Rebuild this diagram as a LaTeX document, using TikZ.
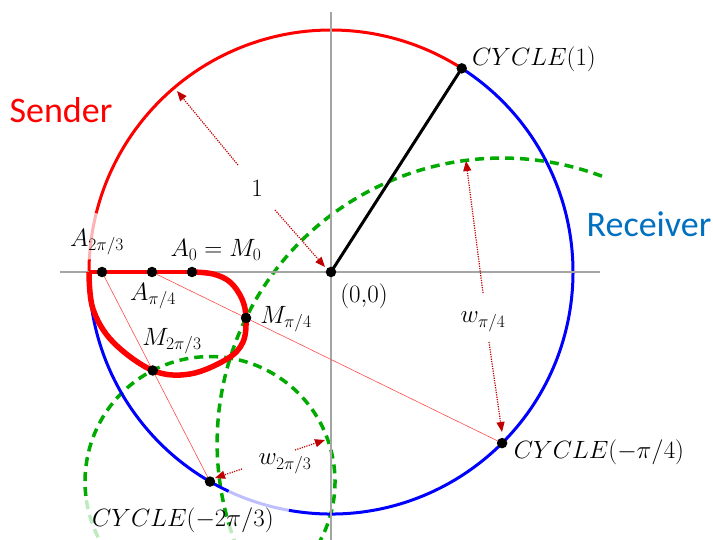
\RequirePackage{fix-cm}
\documentclass[tikz,border=0pt]{standalone}
\usepackage[no-math]{fontspec}
\newfontfamily\calib{Carlito}
\usetikzlibrary{arrows.meta,calc}
\definecolor{sred}{RGB}{255,0,0}
\definecolor{rblue}{RGB}{0,0,255}
\definecolor{recv}{RGB}{0,112,192}
\definecolor{gdash}{RGB}{0,170,0}
\definecolor{darr}{RGB}{192,0,0}
\definecolor{axisgray}{RGB}{165,165,165}
\tikzset{
 axisline/.style={axisgray, line width=1.5pt},
 circarc/.style={line width=3pt},
 gcircle/.style={gdash, line width=3.5pt, dash pattern=on 9pt off 6pt},
 thinred/.style={sred!70, line width=0.6pt},
 dotarrow/.style={darr, line width=1.2pt, dash pattern=on 1.2pt off 1.2pt, -{Triangle[length=10pt,width=8pt]}},
 dotpt/.style={circle, fill=black, inner sep=0pt, minimum size=10.5pt},
 mlabel/.style={font=\fontsize{25}{29}\selectfont, inner sep=0pt},
 biglabel/.style={font=\calib\fontsize{36}{40}\selectfont, inner sep=0pt},
}
\begin{document}
\begin{tikzpicture}[x=1pt,y=1pt]
\clip (-331,-268) rectangle (382,272);
\coordinate (O) at (0,0);
\coordinate (C1) at (57.2958:242);
\coordinate (Cq) at (-45:242);
\coordinate (Ct) at (-120:242);
\coordinate (A0) at (-139,0);
\coordinate (Aq) at (-179,0);
\coordinate (At) at (-229,0);
\coordinate (Mq) at ($(Aq)!0.2686!(Cq)$);
\coordinate (Mt) at ($(At)!0.47!(Ct)$);
\coordinate (L) at (180:242);
\coordinate (xl) at (-271,0);
\coordinate (xr) at (269,0);
\coordinate (yt) at (0,260);
\coordinate (yb) at (0,-268);

% green dashed circles
\draw[gcircle] (Cq) ++(69.5:285) arc[start angle=69.5, end angle=196.6, radius=285];
\draw[gcircle, gdash!25] (Cq) ++(196.6:285) arc[start angle=196.6, end angle=210, radius=285];
\draw[gcircle] (Ct) ++(240:125) arc[start angle=240, end angle=548.6, radius=125];
\draw[gcircle, gdash!25] (Ct) ++(188.6:125) arc[start angle=188.6, end angle=240, radius=125];

% unit circle
\draw[circarc, sred] (O) ++(57.2958:242) arc[start angle=57.2958, end angle=166, radius=242];
\draw[circarc, sred!30] (O) ++(166:242) arc[start angle=166, end angle=177, radius=242];
\draw[circarc, sred] (O) ++(177:242) arc[start angle=177, end angle=180, radius=242];
\draw[circarc, rblue] (O) ++(180:242) arc[start angle=180, end angle=245, radius=242];
\draw[circarc, rblue!25] (O) ++(245:242) arc[start angle=245, end angle=260, radius=242];
\draw[circarc, rblue] (O) ++(260:242) arc[start angle=260, end angle=417.2958, radius=242];

% axes
\draw[axisline] (xl) -- (xr);
\draw[axisline] (yt) -- (yb);

% red locus
\draw[sred, line width=3.5pt] (L) -- (A0);
\draw[sred, line width=5.5pt, line join=round] plot[smooth, tension=0.6] coordinates
 {(-139,0) (-118,-2) (-101,-10) (-89,-27) (-85,-46) (-88,-70) (-104,-87) (-141,-102) (-178.2,-98.5) (-218,-70) (-238,-37) (-242,0)};

% thin construction lines
\draw[thinred] (Aq) -- (Cq);
\draw[thinred] (At) -- (Ct);

% radius to CYCLE(1)
\draw[line width=3pt] (O) -- (C1);

% points
\node[dotpt] (pA0) at (A0) {};
\node[dotpt] (pAq) at (Aq) {};
\node[dotpt] (pAt) at (At) {};
\node[dotpt] (pMq) at (Mq) {};
\node[dotpt] (pMt) at (Mt) {};
\node[dotpt] (pO) at (O) {};
\node[dotpt] (pC1) at (C1) {};
\node[dotpt] (pCq) at (Cq) {};
\node[dotpt] (pCt) at (Ct) {};

% labels
\node[mlabel] (l1) at (-74,84) {$1$};
\node[mlabel] (lC1) at (203,213) {$CYCLE(1)$};
\node[mlabel] (lO) at (33,-24) {$(0{,}0)$};
\node[mlabel] (lAt) at (-234,30) {$A_{2\pi/3}$};
\node[mlabel] (lA0) at (-115,22) {$A_0 = M_0$};
\node[mlabel] (lAq) at (-178,-24) {$A_{\pi/4}$};
\node[mlabel] (lMq) at (-45,-47) {$M_{\pi/4}$};
\node[mlabel] (lMt) at (-159,-69) {$M_{2\pi/3}$};
\node[mlabel] (lwq) at (152,-50) {$w_{\pi/4}$};
\node[mlabel] (lCq) at (268,-180) {$CYCLE(-\pi/4)$};
\node[mlabel] (lwt) at (-46,-192) {$w_{2\pi/3}$};
\node[mlabel] (lCt) at (-148,-248) {$CYCLE(-2\pi/3)$};
\node[biglabel, sred] (snd) at (-270,162) {Sender};
\node[biglabel, recv] (rcv) at (318,48) {Receiver};

% dotted arrows
\coordinate (a1s) at (-93,107);
\coordinate (a1e) at (-154,181);
\coordinate (a2s) at (-56,62);
\coordinate (a2e) at (-6,5);
\coordinate (a3s) at (152,-21);
\coordinate (a3e) at (135,111);
\coordinate (a4s) at (158,-70);
\coordinate (a4e) at (171,-160);
\coordinate (a5s) at (-36,-178);
\coordinate (a5e) at (-6,-168);
\coordinate (a6s) at (-89,-197);
\coordinate (a6e) at (-116,-206);
\draw[dotarrow] (a1s) -- (a1e);
\draw[dotarrow] (a2s) -- (a2e);
\draw[dotarrow] (a3s) -- (a3e);
\draw[dotarrow] (a4s) -- (a4e);
\draw[dotarrow] (a5s) -- (a5e);
\draw[dotarrow] (a6s) -- (a6e);
\end{tikzpicture}
\end{document}
